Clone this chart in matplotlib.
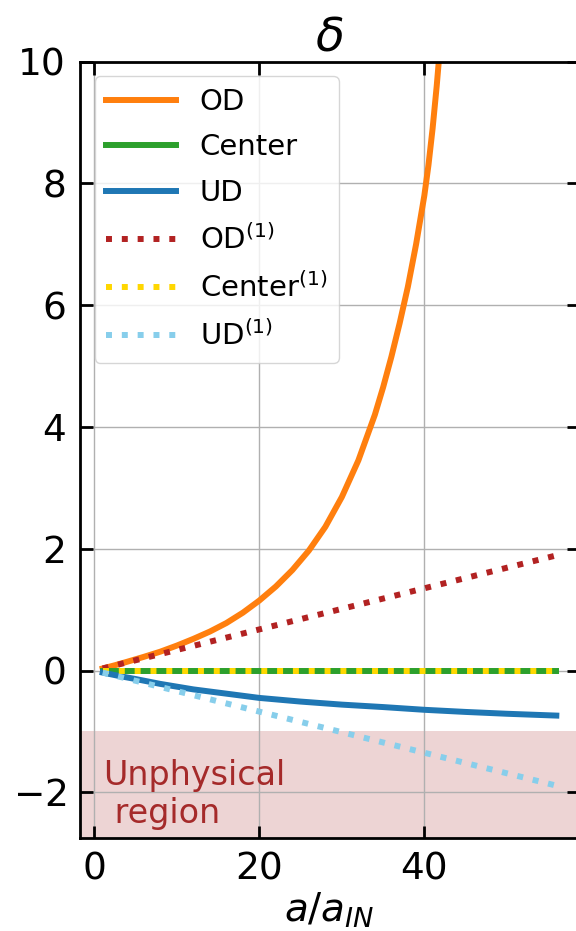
import numpy as np
import matplotlib.pyplot as plt

# scale factor a/a_IN and density contrast
a_od = [1, 2.5, 4, 6, 8, 10, 12, 14, 16, 18, 20, 22, 24, 26, 28, 30, 32, 34, 35, 36,
        37, 38, 39, 40, 40.5, 41, 41.5, 42, 42.5]
d_od = [0.034, 0.087, 0.145, 0.225, 0.31, 0.41, 0.52, 0.64, 0.78, 0.95, 1.15, 1.38, 1.65,
        1.97, 2.36, 2.85, 3.45, 4.2, 4.65, 5.15, 5.7, 6.3, 7.0, 7.8, 8.3, 8.9, 9.6, 10.4, 11.3]

a_ud = [1, 3, 5, 8, 12, 16, 20, 25, 30, 35, 40, 45, 50, 56]
d_ud = [-0.034, -0.09, -0.14, -0.22, -0.31, -0.38, -0.45, -0.51, -0.56, -0.60, -0.645, -0.68, -0.71, -0.74]

a_c = [1, 56]
d_c = [0.0, 0.0]

# linear theory
a_lin = [1, 56]
d_od_lin = [0.034, 1.89]
d_c_lin = [0.0, 0.0]
d_ud_lin = [-0.034, -1.89]

fig = plt.figure(figsize=(5.76, 9.31), dpi=100)
ax = fig.add_axes([80/576, 93/931, 499/576, 776.5/931])

lw = 4.3
ax.axhspan(-5, -1, color='brown', alpha=0.2, lw=0, zorder=1)
ax.plot(a_od, d_od, color='tab:orange', lw=lw, label='OD')
ax.plot(a_c, d_c, color='tab:green', lw=lw, label='Center')
ax.plot(a_ud, d_ud, color='tab:blue', lw=lw, label='UD')
ax.plot(a_lin, d_od_lin, ':', color='firebrick', lw=lw, label='OD$^{(1)}$')
ax.plot(a_lin, d_c_lin, ':', color='gold', lw=lw, label='Center$^{(1)}$')
ax.plot(a_lin, d_ud_lin, ':', color='skyblue', lw=lw, label='UD$^{(1)}$')

ax.text(1.1, -1.45, 'Unphysical\n region', color='brown', fontsize=24, va='top', ha='left')

ax.set_xlim(-1.75, 58.75)
ax.set_ylim(-2.75, 10)
ax.set_xticks([0, 20, 40])
ax.set_yticks([-2, 0, 2, 4, 6, 8, 10])
ax.set_yticklabels(['$-2$', '0', '2', '4', '6', '8', '10'])
ax.grid(True, color='#b0b0b0', lw=1)
ax.tick_params(direction='in', top=True, right=True, length=9, width=2, labelsize=27, pad=10)
for s in ax.spines.values():
    s.set_linewidth(2)

ax.set_title(r'$\delta$', fontsize=34, pad=8)
ax.set_xlabel(r'$a/a_{IN}$', fontsize=28, labelpad=2)
ax.legend(loc='upper left', fontsize=21, handlelength=2.4, labelspacing=0.6)

plt.savefig('out.png', dpi=100)
